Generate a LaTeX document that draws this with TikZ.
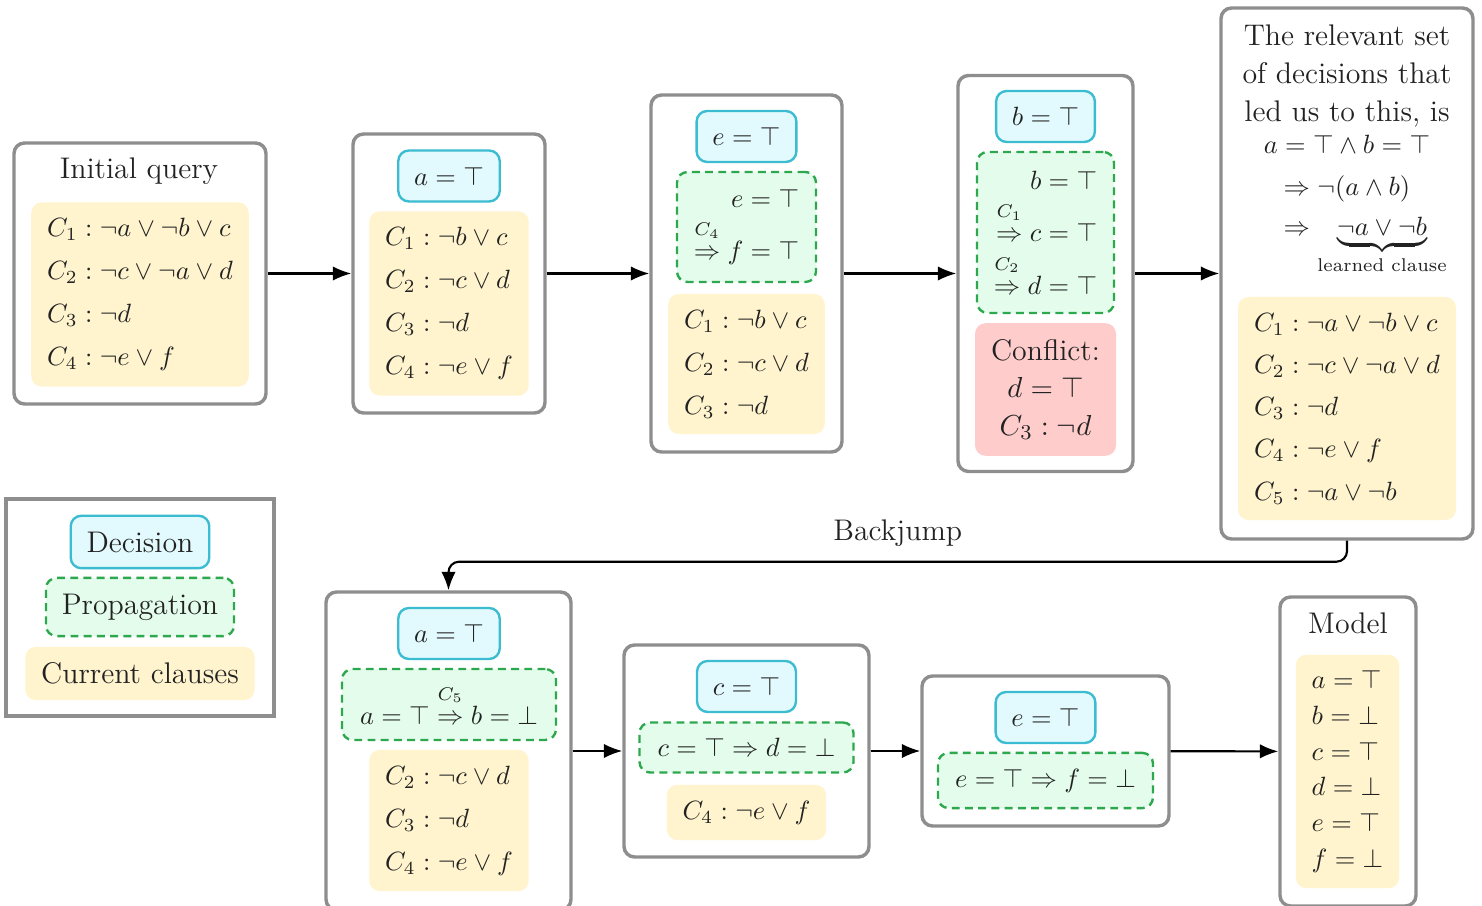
\documentclass[tikz,border=0pt]{standalone}
\usepackage{amsmath}
\usetikzlibrary{arrows.meta}

\definecolor{stageline}{HTML}{8E8E8E}
\definecolor{decline}{HTML}{3BBCD0}
\definecolor{decfill}{HTML}{E2FAFD}
\definecolor{propline}{HTML}{2EA84F}
\definecolor{propfill}{HTML}{E3FCEB}
\definecolor{clausefill}{HTML}{FFF4CE}
\definecolor{conflictfill}{HTML}{FFCCCC}
\definecolor{ink}{HTML}{222222}

\newcommand{\pxu}{0.0133cm}
\newcommand{\impby}[1]{\mathrel{\overset{#1}{{\Rightarrow}\vphantom{\top}}}}

\tikzset{
  words/.style={font=\fontsize{11.3pt}{14.3pt}\selectfont},
  stage/.style={draw=stageline, line width=1.3pt, rounded corners=4pt, fill=white},
  decision/.style={draw=decline, fill=decfill, line width=0.9pt, rounded corners=4pt,
    inner sep=6pt, minimum height=19.3pt},
  propagation/.style={draw=propline, fill=propfill, line width=0.9pt,
    dash pattern=on 3pt off 2pt, rounded corners=4pt, inner sep=6pt},
  clauses/.style={fill=clausefill, rounded corners=4pt, inner sep=6pt, align=left},
  conflict/.style={fill=conflictfill, rounded corners=4pt, inner sep=6pt, align=center},
  flow/.style={->, line width=0.8pt},
}

\begin{document}
\begin{tikzpicture}[>={Latex[length=7pt,width=5.5pt]}, x=\pxu, y=-\pxu, text=ink]
\useasboundingbox (0,0) rectangle (1482,906);

% outer boxes, top row
\node[stage, minimum width=252*\pxu, minimum height=261*\pxu] (s1) at (140,273.5) {};
\node[stage, minimum width=192*\pxu, minimum height=279*\pxu] (s2) at (449,273.5) {};
\node[stage, minimum width=191*\pxu, minimum height=357*\pxu] (s3) at (746.5,273.5) {};
\node[stage, minimum width=175*\pxu, minimum height=396*\pxu] (s4) at (1045.5,273.5) {};
\node[stage, minimum width=252*\pxu, minimum height=531*\pxu] (s5) at (1347,273.5) {};

% outer boxes, bottom row
\node[stage, sharp corners, minimum width=268*\pxu, minimum height=217*\pxu] (key) at (140,607.5) {};
\node[stage, minimum width=245*\pxu, minimum height=318*\pxu] (s6) at (448.5,751) {};
\node[stage, minimum width=245*\pxu, minimum height=212*\pxu] (s7) at (746.5,751) {};
\node[stage, minimum width=247*\pxu, minimum height=150*\pxu] (s8) at (1045.5,751) {};
\node[stage, minimum width=136*\pxu, minimum height=309*\pxu] (s9) at (1348,751.5) {};

% initial query
\node[words] (q1) at (139,171) {Initial query};
\node[clauses] (c1) at (140,294.5) {$C_1 : \neg a \vee \neg b \vee c$\\[4.3pt]
  $C_2 : \neg c \vee \neg a \vee d$\\[4.3pt] $C_3 : \neg d$\\[4.3pt] $C_4 : \neg e \vee f$};

% decide a
\node[decision] (d2) at (449,176) {$a = \top$};
\node[clauses] (c2) at (449,303.5) {$C_1 : \neg b \vee c$\\[4.3pt] $C_2 : \neg c \vee d$\\[4.3pt]
  $C_3 : \neg d$\\[4.3pt] $C_4 : \neg e \vee f$};

% decide e
\node[decision] (d3) at (746.5,136.5) {$e = \top$};
\node[propagation, align=right, minimum width=139*\pxu, minimum height=110*\pxu] (p3) at (746.5,227)
  {$e = \top$\\[4pt] $\impby{C_4} f = \top$};
\node[clauses] (c3) at (746.5,364) {$C_1 : \neg b \vee c$\\[4.3pt] $C_2 : \neg c \vee d$\\[4.3pt] $C_3 : \neg d$};

% decide b, conflict
\node[decision] (d4) at (1045.5,116.5) {$b = \top$};
\node[propagation, align=right, minimum width=137*\pxu, minimum height=161*\pxu] (p4) at (1045.5,232.5)
  {$b = \top$\\[4pt] $\impby{C_1} c = \top$\\[4pt] $\impby{C_2} d = \top$};
\node[conflict, words, minimum width=141*\pxu, minimum height=131*\pxu] (k4) at (1045.5,389.5)
  {Conflict:\\ $d = \top$\\ $C_3 : \neg d$};

% analysis
\node[words, align=center] (why) at (1347,76) {The relevant set\\of decisions that\\led us to this, is};
\node (learn) at (1347,203) {$\begin{gathered} a = \top \wedge b = \top\\
  \begin{aligned} &\Rightarrow \neg(a \wedge b)\\
  &\Rightarrow \underbrace{\neg a \vee \neg b}_{\text{learned clause}}\end{aligned}\kern-11pt\end{gathered}$};
\node[clauses, minimum width=218*\pxu] (c5) at (1347,408.5) {$C_1 : \neg a \vee \neg b \vee c$\\[4pt]
  $C_2 : \neg c \vee \neg a \vee d$\\[4pt] $C_3 : \neg d$\\[4pt] $C_4 : \neg e \vee f$\\[4pt] $C_5 : \neg a \vee \neg b$};

% legend
\node[decision, words] (kd) at (140,542) {Decision};
\node[propagation, words] (kp) at (140,607) {Propagation};
\node[clauses, words] (kc) at (140,673.5) {Current clauses};

% after backjump
\node[decision] (d6) at (449,633.5) {$a = \top$};
\node[propagation, minimum width=214*\pxu] (p6) at (449,704.5) {$a = \top \impby{C_5} b = \bot$};
\node[clauses] (c6) at (449,820.5) {$C_2 : \neg c \vee d$\\[4.3pt] $C_3 : \neg d$\\[4.3pt] $C_4 : \neg e \vee f$};

\node[decision] (d7) at (746.5,686.5) {$c = \top$};
\node[propagation, minimum width=214*\pxu] (p7) at (746.5,747.5) {$c = \top \Rightarrow d = \bot$};
\node[clauses] (c7) at (746.5,812.5) {$C_4 : \neg e \vee f$};

\node[decision] (d8) at (1045.5,717.5) {$e = \top$};
\node[propagation, minimum width=215*\pxu] (p8) at (1045.5,780.5) {$e = \top \Rightarrow f = \bot$};

% model
\node[words] (m9) at (1348,623) {Model};
\node[clauses] (v9) at (1347.5,771.5) {$a = \top$\\[1.5pt] $b = \bot$\\[1.5pt] $c = \top$\\[1.5pt]
  $d = \bot$\\[1.5pt] $e = \top$\\[1.5pt] $f = \bot$};

% connectors
\draw[flow] (s1) -- (s2);
\draw[flow] (s2) -- (s3);
\draw[flow] (s3) -- (s4);
\draw[flow] (s4) -- (s5);
\draw[flow, rounded corners=4pt] (s5.south) -- ++(0,21) -| node[pos=0.25, above=2pt, words]{Backjump} (s6.north);
\draw[flow] (s6) -- (s7);
\draw[flow] (s7) -- (s8);
\draw[flow] (s8) -- (s9);
\end{tikzpicture}
\end{document}
